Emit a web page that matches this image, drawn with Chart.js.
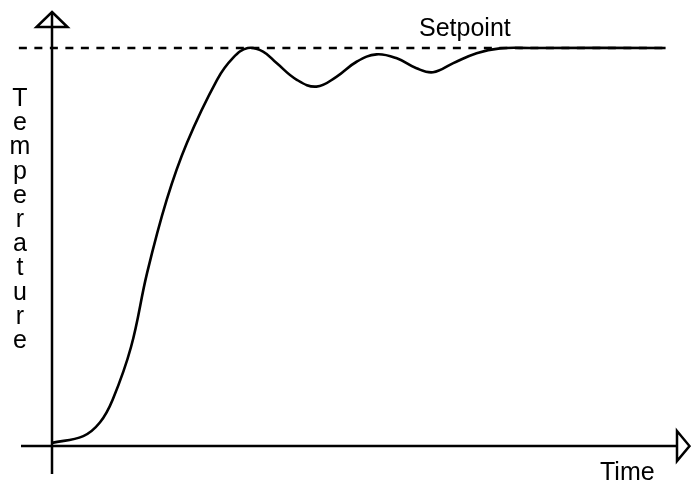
<!DOCTYPE html>
<html>
<head>
<meta charset="utf-8">
<script src="https://cdn.jsdelivr.net/npm/chart.js@4/dist/chart.umd.min.js"></script>
<style>
  html, body { margin: 0; padding: 0; background: #fff; }
  #wrap { width: 691px; height: 483px; }
</style>
</head>
<body>
<div id="wrap"><canvas id="c" width="691" height="483"></canvas></div>
<script>
// ---- data (time in arbitrary units, temperature in % of setpoint) ----
const timeValues = [0, 5.1, 7.8, 9.9, 12.9, 15.5, 18.7, 22.0, 26.9, 29.5, 31.9, 34.4, 36.6, 39.9, 43.1, 46.4, 49.7, 52.9, 56.2, 59.4, 62.1, 65.4, 69.2, 73.0, 77.9, 100];
const temperatureValues = [0.8, 2.5, 5.9, 11.7, 25.0, 43.5, 61.9, 76.2, 92.0, 97.5, 100.0, 99.1, 96.2, 92.0, 90.3, 92.8, 96.6, 98.4, 97.4, 94.9, 93.9, 96.2, 98.7, 99.9, 100, 100];
const setpointValue = 100;
const setpointRange = [-5.4, 100];
const axisLabels = { x: "Time", y: "Temperature", setpoint: "Setpoint" };

const curvePoints = timeValues.map((t, i) => ({ x: t, y: temperatureValues[i] }));
const setpointPoints = setpointRange.map(t => ({ x: t, y: setpointValue }));

const FONT = '25px "Liberation Sans", Arial, sans-serif';

const axesPlugin = {
  id: 'axesPlugin',
  afterDatasetsDraw(chart) {
    const ctx = chart.ctx;
    const xs = chart.scales.x, ys = chart.scales.y;
    const x0 = xs.getPixelForValue(0);
    const y0 = ys.getPixelForValue(0);
    ctx.save();
    ctx.strokeStyle = '#000';
    ctx.lineWidth = 2.5;
    ctx.lineJoin = 'miter';
    ctx.beginPath();
    ctx.moveTo(x0, 474);
    ctx.lineTo(x0, 12);
    ctx.stroke();
    ctx.beginPath();
    ctx.moveTo(x0, 12);
    ctx.lineTo(x0 + 15.5, 27);
    ctx.lineTo(x0 - 15.5, 27);
    ctx.closePath();
    ctx.stroke();
    ctx.beginPath();
    ctx.moveTo(21, y0);
    ctx.lineTo(677, y0);
    ctx.stroke();
    ctx.beginPath();
    ctx.moveTo(677, y0 - 15);
    ctx.lineTo(689.5, y0);
    ctx.lineTo(677, y0 + 15);
    ctx.closePath();
    ctx.stroke();

    ctx.fillStyle = '#000';
    ctx.font = FONT;
    ctx.textBaseline = 'alphabetic';
    ctx.textAlign = 'left';
    ctx.fillText(axisLabels.setpoint, 419, 36);
    ctx.fillText(axisLabels.x, 600, 480);
    ctx.textAlign = 'center';
    Array.from(axisLabels.y).forEach((ch, i) => {
      ctx.fillText(ch, 20, 106 + i * 24.2);
    });
    ctx.restore();
  }
};

new Chart(document.getElementById('c'), {
  type: 'scatter',
  data: {
    datasets: [
      {
        label: 'Setpoint',
        data: setpointPoints,
        showLine: true,
        borderColor: '#000',
        borderWidth: 2.5,
        borderDash: [8, 7.5],
        pointRadius: 0,
        order: 2
      },
      {
        label: 'Temperature',
        data: curvePoints,
        showLine: true,
        borderColor: '#000',
        borderWidth: 2.6,
        tension: 0.4,
        pointRadius: 0,
        order: 1
      }
    ]
  },
  options: {
    responsive: false,
    animation: false,
    layout: { padding: 0 },
    plugins: { legend: { display: false }, tooltip: { enabled: false } },
    scales: {
      x: { type: 'linear', min: -8.475, max: 104.14, display: false },
      y: { type: 'linear', min: -9.285, max: 112.05, display: false }
    }
  },
  plugins: [axesPlugin]
});
</script>
</body>
</html>
